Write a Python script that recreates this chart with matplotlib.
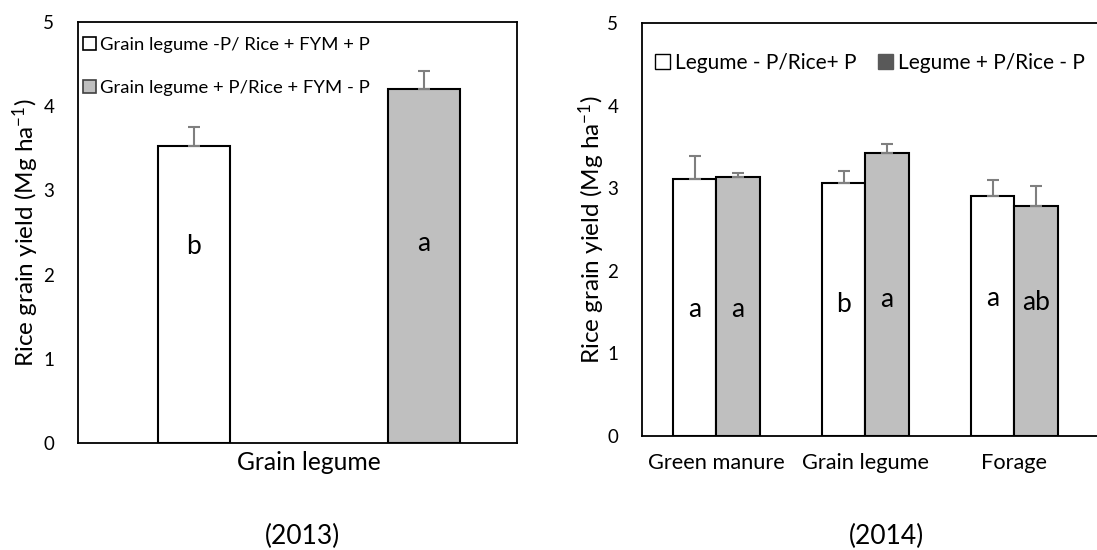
import matplotlib
matplotlib.use("Agg")
import matplotlib.pyplot as plt
from matplotlib.patches import Patch
import numpy as np

plt.rcParams['font.family'] = ['Lato', 'DejaVu Sans']
plt.rcParams['mathtext.fontset'] = 'custom'
plt.rcParams['mathtext.rm'] = 'Lato'
plt.rcParams['mathtext.it'] = 'Lato:italic'

# 2013 panel
cats_2013 = ["Grain legume"]
minus_2013 = [3.53]
minus_err_2013 = [0.22]
plus_2013 = [4.20]
plus_err_2013 = [0.22]
letters_minus_2013 = ["b"]
letters_plus_2013 = ["a"]
letter_y_minus_2013 = [2.33]
letter_y_plus_2013 = [2.37]

# 2014 panel
cats_2014 = ["Green manure", "Grain legume", "Forage"]
minus_2014 = [3.11, 3.06, 2.91]
minus_err_2014 = [0.28, 0.15, 0.19]
plus_2014 = [3.14, 3.42, 2.79]
plus_err_2014 = [0.04, 0.12, 0.24]
letters_minus_2014 = ["a", "b", "a"]
letters_plus_2014 = ["a", "a", "ab"]
letter_y_minus_2014 = [1.53, 1.59, 1.67]
letter_y_plus_2014 = [1.53, 1.65, 1.62]

gray = '#bfbfbf'
errc = '#7f7f7f'
ylab = 'Rice grain yield (Mg ha$^{-1}$)'
ekw = dict(capsize=4.5, elinewidth=1.5, capthick=1.5)

fig = plt.figure(figsize=(10.97, 5.5), dpi=100)

# ---- left panel (2013)
ax1 = fig.add_axes([0.0711, 0.1945, 0.4002, 0.7655])
x = np.arange(len(cats_2013))
off, w = 0.262, 0.164
ax1.bar(x - off, minus_2013, w, color='white', edgecolor='black', linewidth=1.5,
        yerr=[[0] * len(x), minus_err_2013], ecolor=errc, error_kw=ekw)
ax1.bar(x + off, plus_2013, w, color=gray, edgecolor='black', linewidth=1.5,
        yerr=[[0] * len(x), plus_err_2013], ecolor=errc, error_kw=ekw)
for i in range(len(x)):
    ax1.text(x[i] - off, letter_y_minus_2013[i], letters_minus_2013[i],
             ha='center', va='center', fontsize=19)
    ax1.text(x[i] + off, letter_y_plus_2013[i], letters_plus_2013[i],
             ha='center', va='center', fontsize=19)
ax1.set_xlim(-0.526, 0.474)
ax1.set_ylim(0, 5)
ax1.set_xticks(x)
ax1.set_xticklabels(cats_2013)
ax1.set_yticks(range(6))
ax1.tick_params(length=0)
ax1.tick_params(axis='y', labelsize=13.5, pad=17)
ax1.tick_params(axis='x', labelsize=17.7, pad=6)
ax1.set_ylabel(ylab, fontsize=17.5, labelpad=2)
for s in ax1.spines.values():
    s.set_linewidth(1.3)
h1 = [Patch(facecolor='white', edgecolor='black', linewidth=1.2),
      Patch(facecolor=gray, edgecolor='#404040', linewidth=1.2)]
ax1.legend(h1, ['Grain legume -P/ Rice + FYM + P', 'Grain legume + P/Rice + FYM - P'],
           loc='upper left', bbox_to_anchor=(-0.006, 0.982), frameon=False,
           fontsize=13.3, handlelength=0.7, handleheight=0.7, handletextpad=0.25,
           labelspacing=1.45, borderaxespad=0)

# ---- right panel (2014), extends past the figure edge
ax2 = fig.add_axes([0.5852, 0.2073, 0.5433, 0.7509])
x2 = np.arange(len(cats_2014))
bw = 0.29
ax2.bar(x2, minus_2014, -bw, align='edge', color='white', edgecolor='black', linewidth=1.5,
        yerr=[[0] * len(x2), minus_err_2014], ecolor=errc, error_kw=ekw)
ax2.bar(x2, plus_2014, bw, align='edge', color=gray, edgecolor='black', linewidth=1.5,
        yerr=[[0] * len(x2), plus_err_2014], ecolor=errc, error_kw=ekw)
for i in range(len(x2)):
    ax2.text(x2[i] - bw / 2, letter_y_minus_2014[i], letters_minus_2014[i],
             ha='center', va='center', fontsize=19)
    ax2.text(x2[i] + bw / 2, letter_y_plus_2014[i], letters_plus_2014[i],
             ha='center', va='center', fontsize=19)
ax2.set_xlim(-0.5, 3.5)
ax2.set_ylim(0, 5)
ax2.set_xticks(x2)
ax2.set_xticklabels(cats_2014)
ax2.set_yticks(range(6))
ax2.tick_params(length=0)
ax2.tick_params(axis='y', labelsize=13.5, pad=17)
ax2.tick_params(axis='x', labelsize=15.7, pad=12)
ax2.set_ylabel(ylab, fontsize=17.5, labelpad=0)
for s in ax2.spines.values():
    s.set_linewidth(1.3)
h2 = [Patch(facecolor='white', edgecolor='black', linewidth=1.0),
      Patch(facecolor='#595959', edgecolor='#595959', linewidth=1.0)]
ax2.legend(h2, ['Legume - P/Rice+ P', 'Legume + P/Rice - P'],
           loc='upper left', bbox_to_anchor=(0.008, 0.948), frameon=False, ncol=2,
           fontsize=15, handlelength=0.7, handleheight=0.7, handletextpad=0.25,
           columnspacing=1.05, borderaxespad=0)

fig.text(303 / 1097, 1 - 536 / 550, '(2013)', ha='center', va='center', fontsize=19)
fig.text(887 / 1097, 1 - 536 / 550, '(2014)', ha='center', va='center', fontsize=19)

fig.savefig('out.png', dpi=100)
